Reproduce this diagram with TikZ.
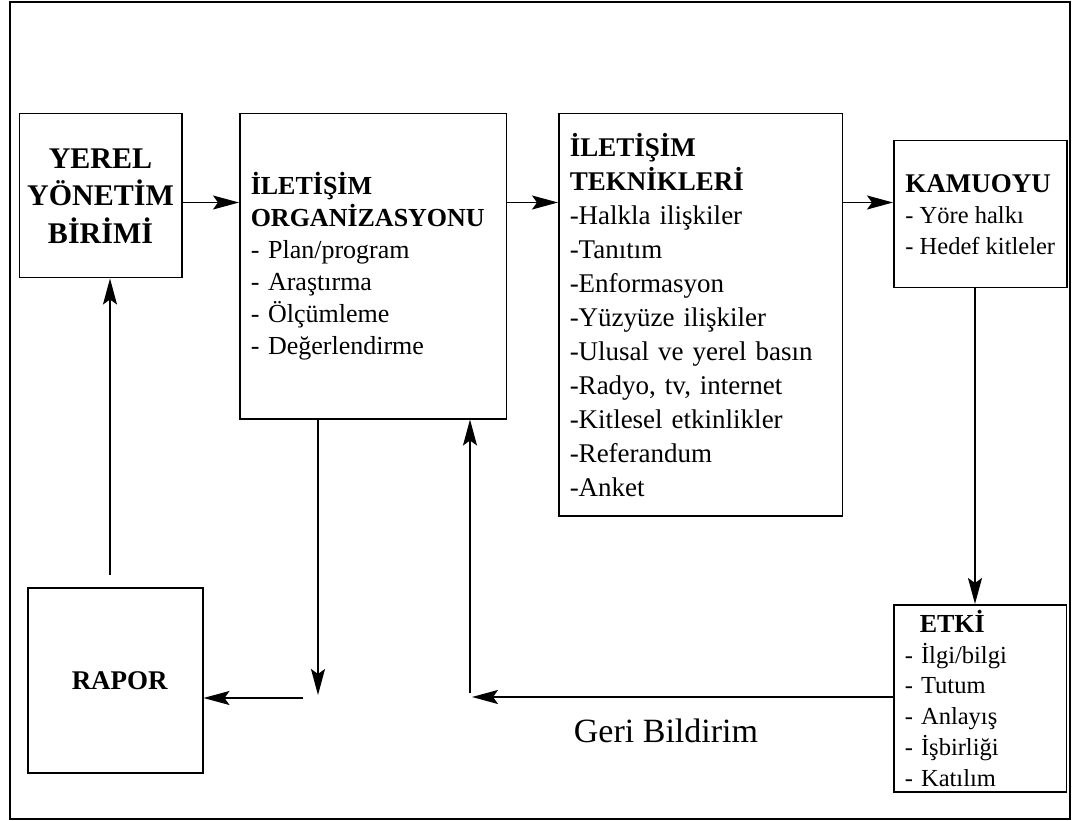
\documentclass[tikz,border=0pt]{standalone}
\usepackage{fontspec}
\setmainfont{Liberation Serif}
\usetikzlibrary{arrows.meta}

\tikzset{
    kutu/.style={rectangle, draw, line width=1.5pt, anchor=north west, align=left, inner xsep=11pt, inner ysep=0pt},
    ok/.style={-{Stealth[length=26pt, width=14pt, inset=5pt]}, line width=1.6pt}
}

\begin{document}
\begin{tikzpicture}[x=1pt, y=-1pt]
    \useasboundingbox (0,0) rectangle (1072,821);
    % Frame
    \draw[line width=1.3pt] (10,2) rectangle (1070,819);

    % Boxes
    \node[kutu, align=center, inner xsep=4pt, text width=154.5pt, minimum height=164pt,
          font=\fontsize{30}{37.5}\selectfont\bfseries] (yerel) at (18.5,113) {YEREL\\YÖNETİM\\BİRİMİ};

    \node[kutu, text width=244.5pt, minimum height=305pt, font=\fontsize{26}{32}\selectfont] (org) at (239,113)
        {\textbf{İLETİŞİM}\\\textbf{ORGANİZASYONU}\\- Plan/program\\- Araştırma\\- Ölçümleme\\- Değerlendirme};

    \node[kutu, text width=261.5pt, minimum height=402pt, font=\fontsize{27}{34}\selectfont] (teknik) at (558,113)
        {\textbf{İLETİŞİM}\\\textbf{TEKNİKLERİ}\\-Halkla ilişkiler\\-Tanıtım\\-Enformasyon\\-Yüzyüze ilişkiler\\-Ulusal ve yerel basın\\-Radyo, tv, internet\\-Kitlesel etkinlikler\\-Referandum\\-Anket};

    \node[kutu, inner xsep=0pt, minimum width=173pt, minimum height=147pt, font=\fontsize{24.5}{31}\selectfont] (kamu) at (893,140)
        {{\fontsize{27}{31}\selectfont\bfseries KAMUOYU}\\- Yöre halkı\\- Hedef kitleler};

    \node[kutu, align=center, inner xsep=4pt, text width=167pt, minimum height=185pt,
          font=\fontsize{27}{32}\selectfont\bfseries] (rapor) at (27,587) {\hspace*{9pt}RAPOR};

    \node[kutu, text width=150.5pt, minimum height=187pt, font=\fontsize{24.5}{30.7}\selectfont] (etki) at (893,604)
        {\hspace*{15pt}{\fontsize{26}{30.7}\selectfont\bfseries ETKİ}\\- İlgi/bilgi\\- Tutum\\- Anlayış\\- İşbirliği\\- Katılım};

    \node[font=\fontsize{34}{40}\selectfont] (geri) at (666,731) {Geri Bildirim};

    % Arrows
    \coordinate (hat) at (0,202.5);
    \draw[ok] (yerel.east |- hat) -- (org.west |- hat);
    \draw[ok] (org.east |- hat) -- (teknik.west |- hat);
    \draw[ok] (teknik.east |- hat) -- (kamu.west |- hat);

    \coordinate (k1) at (975,0);
    \draw[ok] (k1 |- kamu.south) -- (k1 |- etki.north);

    \coordinate (g1) at (472,697);
    \draw[ok] (g1 -| etki.west) -- (g1);
    \coordinate (g2) at (470,693);
    \draw[ok] (g2) -- (g2 |- org.south);

    \coordinate (o1) at (318,695);
    \draw[ok] (o1 |- org.south) -- (o1);
    \coordinate (r2) at (303,698);
    \draw[ok] (r2) -- (r2 -| rapor.east);

    \coordinate (r1) at (110,575);
    \draw[ok] (r1) -- (r1 |- yerel.south);
\end{tikzpicture}
\end{document}
